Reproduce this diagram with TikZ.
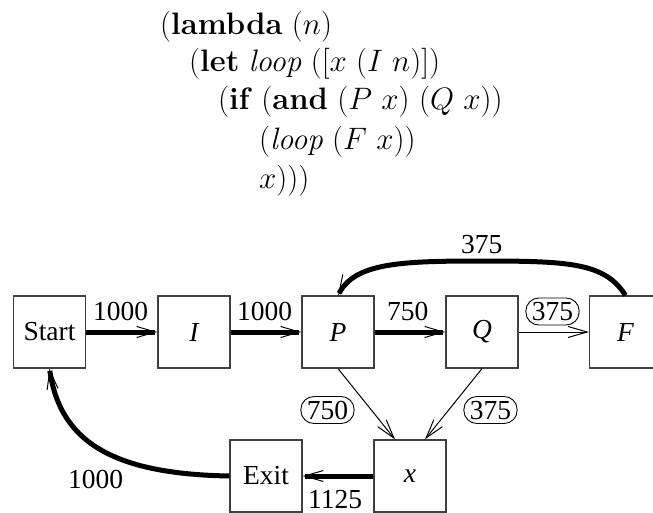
\RequirePackage{fix-cm}
\documentclass[tikz,border=0pt]{standalone}
\usepackage{fontspec}
\newfontfamily\timesf{Liberation Serif}
\usetikzlibrary{arrows.meta}
\begin{document}
\begin{tikzpicture}[x=1pt,y=-1pt,
  box/.style={draw=black!75,line width=1.2pt,minimum width=72pt,minimum height=72pt,inner sep=0pt,font=\timesf\fontsize{27.5}{30}\selectfont},
  lbl/.style={inner sep=0pt,font=\timesf\fontsize{27.5}{30}\selectfont},
  oval/.style={draw,line width=0.9pt,rounded corners=13pt,inner xsep=6pt,inner ysep=3pt,text height=19.5pt,text depth=1.5pt,font=\timesf\fontsize{27.5}{30}\selectfont},
  code/.style={inner sep=0pt,anchor=base west,font=\fontsize{31}{38.5}\selectfont},
  tip/.style={-{Straight Barb[length=19pt,width=11pt,line width=1pt]}},
  thick flow/.style={tip,line width=5pt},
  thin flow/.style={tip,line width=1pt}]
\useasboundingbox (0,0) rectangle (653,513);
\clip (0,0) rectangle (653,513);
% code
\node[code] (c1) at (160,35) {(\textbf{lambda} $(n)$};
\node[code] (c2) at (189,71.5) {(\textbf{let} \textit{loop} $([x\ (I\ n)])$};
\node[code] (c3) at (218,110) {(\textbf{if} (\textbf{and} $(P\ x)$ $(Q\ x)$)};
\node[code] (c4) at (259,150) {(\textit{loop} $(F\ x)$)};
\node[code] (c5) at (259,189) {$x$)))};
% boxes
\node[box] (start) at (49.5,332) {Start};
\node[box] (I) at (194,332) {\itshape I};
\node[box] (P) at (338,332) {\itshape P};
\node[box] (Q) at (482,332) {\itshape Q};
\node[box] (F) at (625.5,332) {\itshape F};
\node[box] (exit) at (266,476) {Exit};
\node[box] (x) at (410,476) {\itshape x};
\coordinate (top) at (482,261);
% connectors
\draw[thick flow] (start) -- (I);
\draw[thick flow] (I) -- (P);
\draw[thick flow] (P) -- (Q);
\draw[thin flow] (Q) -- (F);
\draw[thick flow] (F.north) .. controls (605,263) and (570,261) .. (top)
  .. controls (400,261) and (355,263) .. (P.north);
\draw[thin flow] (P.south) -- ([xshift=-15pt]x.north);
\draw[thin flow] (Q.south) -- ([xshift=15pt]x.north);
\draw[thick flow] (x) -- (exit);
\draw[thick flow] (exit.west) .. controls (110,474) and (60,440) .. (start.south);
% labels
\node[lbl,anchor=base west] (n1) at (93,320) {1000};
\node[lbl,anchor=base west] (n2) at (237,320) {1000};
\node[lbl,anchor=base west] (n3) at (387,320) {750};
\node[oval] (n4) at (552.5,311.5) {375};
\node[lbl,anchor=base west] (n5) at (461,253) {375};
\node[oval] (n6) at (327.5,410) {750};
\node[oval] (n7) at (490.5,410) {375};
\node[lbl,anchor=base west] (n8) at (308,508) {1125};
\node[lbl,anchor=base west] (n9) at (68,488) {1000};
\end{tikzpicture}
\end{document}
